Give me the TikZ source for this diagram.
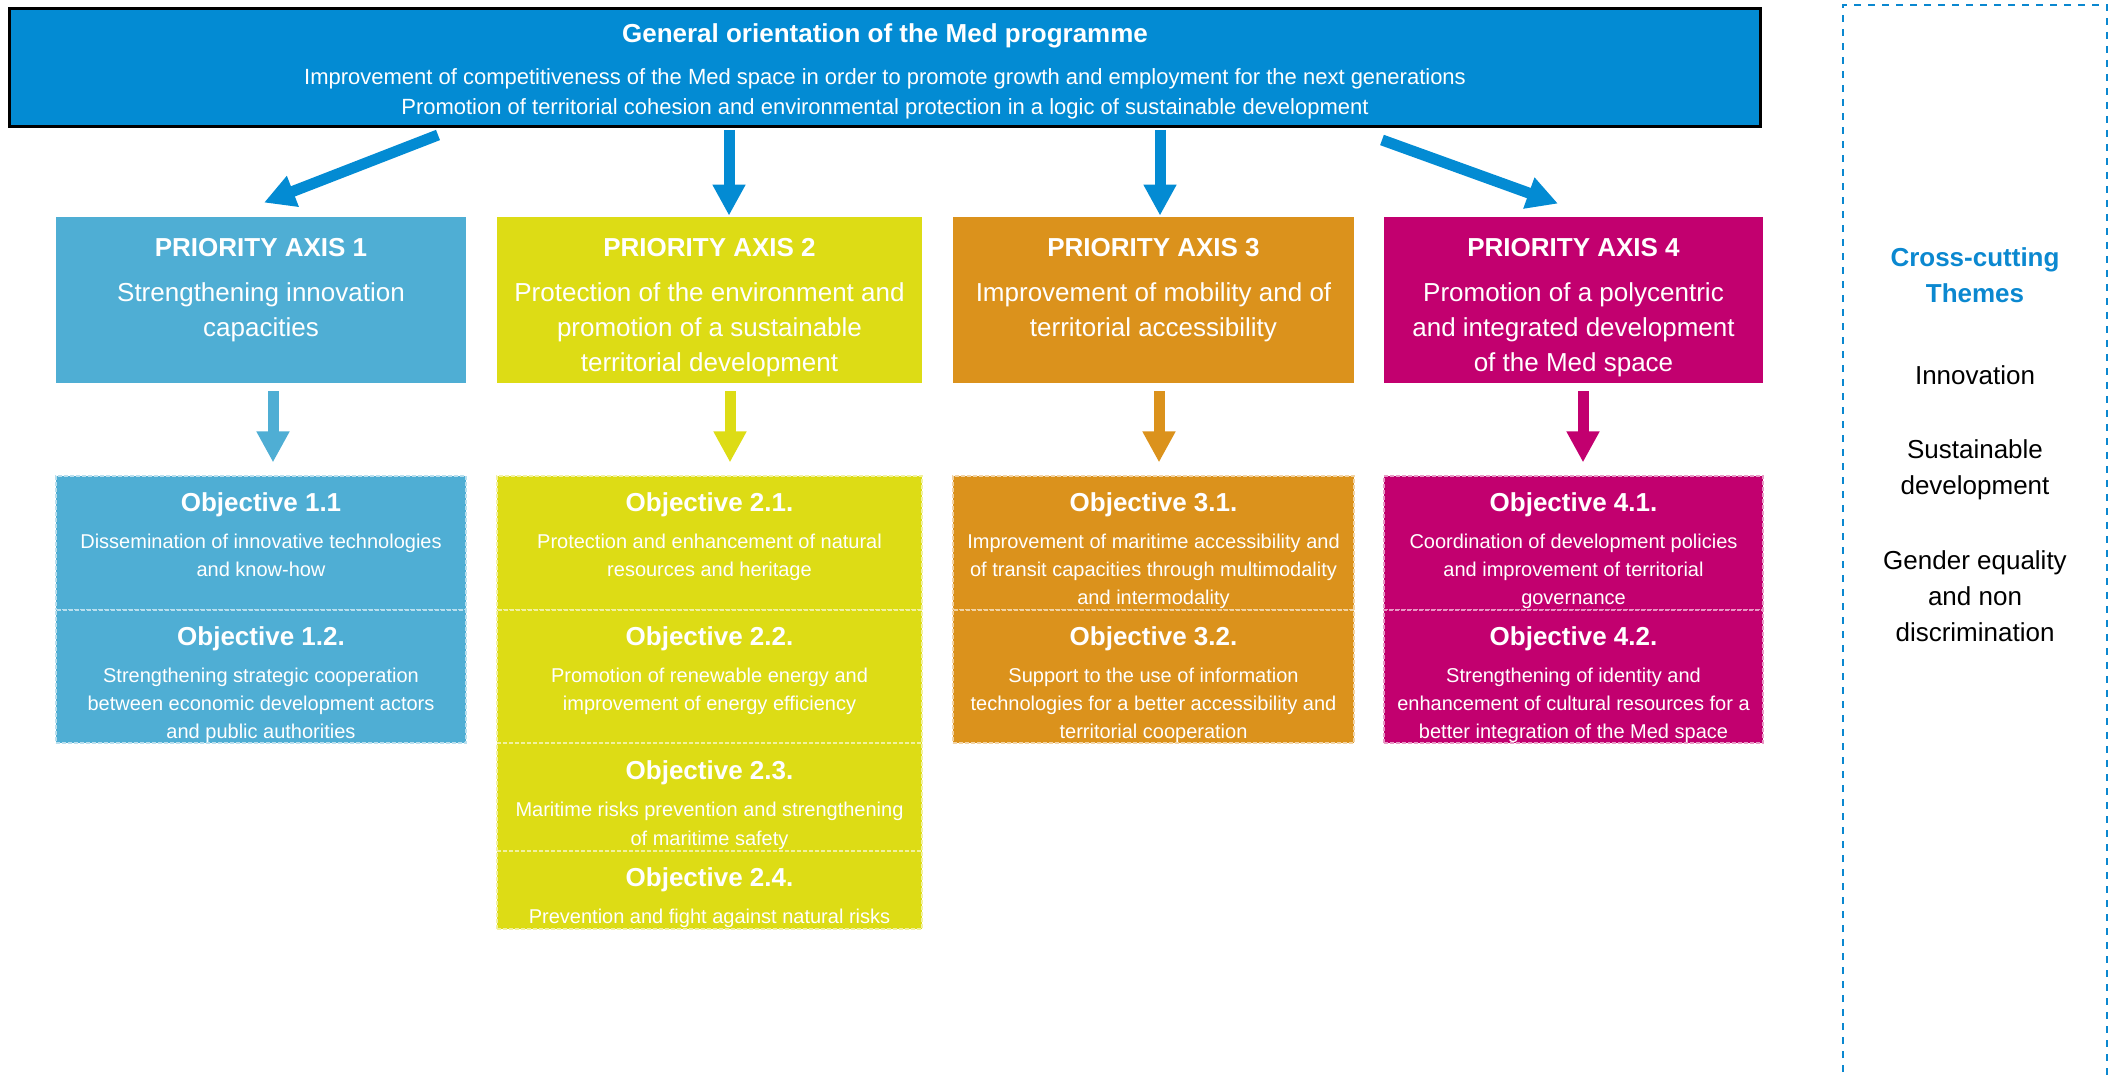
\documentclass[tikz,border=0pt]{standalone}
\usepackage{fontspec}
\setmainfont{Liberation Sans}
\usepackage{xcolor}
\usepackage{tikz}
\usetikzlibrary{arrows.meta}

\definecolor{medblue}{RGB}{3,139,211}
\definecolor{axone}{RGB}{79,174,212}
\definecolor{axtwo}{RGB}{221,220,21}
\definecolor{axthree}{RGB}{219,146,28}
\definecolor{axfour}{RGB}{194,0,111}
\definecolor{themeblue}{RGB}{11,136,208}

\newcommand{\objtitle}[1]{{\fontsize{13}{14}\selectfont\bfseries #1}\\[4.5pt]}

\tikzset{
  axbox/.style={inner sep=0pt, minimum height=83pt},
  objbox/.style={fill=#1, draw=white!60!#1, line width=0.6pt, dash pattern=on 2pt off 1pt, inner sep=0pt},
  bigarrow/.style={draw=#1, line width=5.5pt, -{Triangle[width=15.5pt,length=15.5pt]}},
  axtext/.style={text=white, anchor=base, align=center, inner sep=0pt, font=\fontsize{13}{17.5}\selectfont},
  objtext/.style={text=white, anchor=base, align=center, inner sep=0pt, font=\fontsize{10}{14}\selectfont},
  themetext/.style={anchor=base, align=center, inner sep=0pt, font=\fontsize{13}{18}\selectfont}
}

\begin{document}
\begin{tikzpicture}[x=0.5pt, y=-0.5pt]
    \useasboundingbox (0,0) rectangle (2111,1079);

    \node[fill=medblue, draw=black, line width=1.5pt, inner sep=0pt, minimum width=875.5pt, minimum height=59pt] (top) at (885,67.5) {};
    \node[text=white, anchor=base, inner sep=0pt, font=\bfseries\fontsize{13}{17.5}\selectfont] at (885,43) {General orientation of the Med programme};
    \node[text=white, anchor=base, align=center, inner sep=0pt, font=\fontsize{11}{15}\selectfont] at (885,115) {Improvement of competitiveness of the Med space in order to promote growth and employment for the next generations\\Promotion of territorial cohesion and environmental protection in a logic of sustainable development};

    \node[axbox, fill=axone, minimum width=205pt] (ax1) at (261,300) {};
    \node[axbox, fill=axtwo, minimum width=212.5pt] (ax2) at (709.5,300) {};
    \node[axbox, fill=axthree, minimum width=200.5pt] (ax3) at (1153.5,300) {};
    \node[axbox, fill=axfour, minimum width=189.5pt] (ax4) at (1573.5,300) {};

    \node[axtext] at (261,337) {\textbf{PRIORITY AXIS 1}\\[5pt]Strengthening innovation\\capacities};
    \node[axtext] at (709.5,372) {\textbf{PRIORITY AXIS 2}\\[5pt]Protection of the environment and\\promotion of a sustainable\\territorial development};
    \node[axtext] at (1153.5,337) {\textbf{PRIORITY AXIS 3}\\[5pt]Improvement of mobility and of\\territorial accessibility};
    \node[axtext] at (1573.5,372) {\textbf{PRIORITY AXIS 4}\\[5pt]Promotion of a polycentric\\and integrated development\\of the Med space};

    \draw[bigarrow=medblue] ([shift={(-447,7)}]top.south) -- ([shift={(3,-14)}]ax1.north);
    \draw[bigarrow=medblue] ([shift={(-156,2)}]top.south) -- ([shift={(19.5,-1)}]ax2.north);
    \draw[bigarrow=medblue] ([shift={(275,2)}]top.south) -- ([shift={(6.5,-1)}]ax3.north);
    \draw[bigarrow=medblue] ([shift={(497,12)}]top.south) -- ([shift={(-15.5,-13)}]ax4.north);

    \node[objbox=axone, minimum width=205pt, minimum height=67pt] (o11) at (261,543) {};
    \node[objbox=axone, minimum width=205pt, minimum height=66.5pt] (o12) at (261,676.5) {};
    \node[objbox=axtwo, minimum width=212.5pt, minimum height=67pt] (o21) at (709.5,543) {};
    \node[objbox=axtwo, minimum width=212.5pt, minimum height=66.5pt] (o22) at (709.5,676.5) {};
    \node[objbox=axtwo, minimum width=212.5pt, minimum height=54pt] (o23) at (709.5,797) {};
    \node[objbox=axtwo, minimum width=212.5pt, minimum height=39pt] (o24) at (709.5,890) {};
    \node[objbox=axthree, minimum width=200.5pt, minimum height=67pt] (o31) at (1153.5,543) {};
    \node[objbox=axthree, minimum width=200.5pt, minimum height=66.5pt] (o32) at (1153.5,676.5) {};
    \node[objbox=axfour, minimum width=189.5pt, minimum height=67pt] (o41) at (1573.5,543) {};
    \node[objbox=axfour, minimum width=189.5pt, minimum height=66.5pt] (o42) at (1573.5,676.5) {};

    \draw[bigarrow=axone] ([shift={(12,8)}]ax1.south) -- ([shift={(12,-13)}]o11.north);
    \draw[bigarrow=axtwo] ([shift={(20.5,8)}]ax2.south) -- ([shift={(20.5,-13)}]o21.north);
    \draw[bigarrow=axthree] ([shift={(5.5,8)}]ax3.south) -- ([shift={(5.5,-13)}]o31.north);
    \draw[bigarrow=axfour] ([shift={(9.5,8)}]ax4.south) -- ([shift={(9.5,-13)}]o41.north);

    \node[objtext] at (261,577) {\objtitle{Objective 1.1}Dissemination of innovative technologies\\and know-how};
    \node[objtext] at (261,739) {\objtitle{Objective 1.2.}Strengthening strategic cooperation\\between economic development actors\\and public authorities};
    \node[objtext] at (709.5,577) {\objtitle{Objective 2.1.}Protection and enhancement of natural\\resources and heritage};
    \node[objtext] at (709.5,711) {\objtitle{Objective 2.2.}Promotion of renewable energy and\\improvement of energy efficiency};
    \node[objtext] at (709.5,845) {\objtitle{Objective 2.3.}Maritime risks prevention and strengthening\\of maritime safety};
    \node[objtext] at (709.5,923) {\objtitle{Objective 2.4.}Prevention and fight against natural risks};
    \node[objtext] at (1153.5,605) {\objtitle{Objective 3.1.}Improvement of maritime accessibility and\\of transit capacities through multimodality\\and intermodality};
    \node[objtext] at (1153.5,739) {\objtitle{Objective 3.2.}Support to the use of information\\technologies for a better accessibility and\\territorial cooperation};
    \node[objtext] at (1573.5,605) {\objtitle{Objective 4.1.}Coordination of development policies\\and improvement of territorial\\governance};
    \node[objtext] at (1573.5,739) {\objtitle{Objective 4.2.}Strengthening of identity and\\enhancement of cultural resources for a\\better integration of the Med space};

    \draw[themeblue, line width=1pt, dash pattern=on 3.5pt off 3.5pt] (1843,1100) -- (1843,5) -- (2107,5) -- (2107,1100);
    \node[themetext, text=themeblue, font=\bfseries\fontsize{13}{18}\selectfont] at (1975,303) {Cross-cutting\\Themes};
    \node[themetext] at (1975,385) {Innovation};
    \node[themetext] at (1975,495) {Sustainable\\development};
    \node[themetext] at (1975,642) {Gender equality\\and non\\discrimination};

\end{tikzpicture}
\end{document}
